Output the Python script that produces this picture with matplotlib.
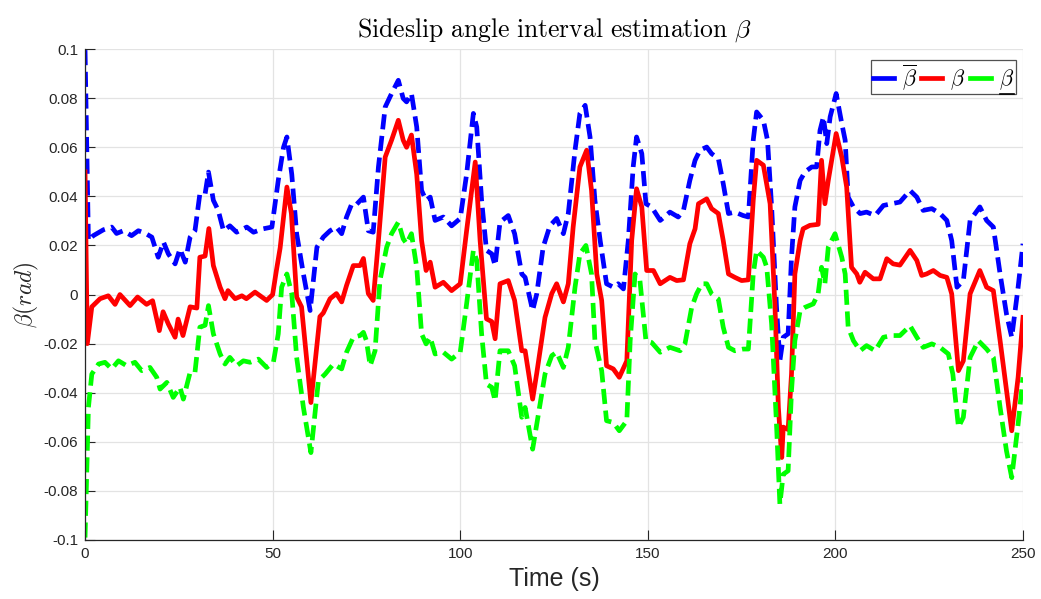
import matplotlib
matplotlib.use('Agg')
import matplotlib.pyplot as plt
from matplotlib.lines import Line2D

plt.rcParams['font.family'] = ['Liberation Sans', 'DejaVu Sans']
plt.rcParams['mathtext.fontset'] = 'cm'

# ---- data (time in s, angle in rad) ----
red_t = [0, 0.6, 1.8, 4, 6.2, 8, 9.3, 12, 14, 16.4,
         18, 19.8, 20.8, 22.2, 24, 24.8, 26.1, 28, 29.8, 30.6,
         32, 33, 34.2, 36, 37.3, 38.1, 40, 41.8, 43, 45.3,
         48.4, 50, 51, 52, 53.8, 55, 56.4, 57.7, 60.2, 62.6,
         63.5, 65.3, 67, 68.4, 69.7, 71.5, 73.3, 74.2, 75.5, 76.8,
         78.2, 80, 81.7, 83.5, 84.8, 85.7, 87, 88.4, 89.7, 90.9,
         92, 93.3, 95.5, 97.7, 100, 101.7, 104, 105.3, 107, 108.4,
         109.3, 110.6, 112.8, 114.5, 116.4, 117.3, 119.3, 120.4, 122.6, 124.4,
         125.7, 127.5, 128.8, 130.1, 131.9, 133.7, 135, 136.4, 137.7, 139,
         140.8, 142.4, 144.4, 145.7, 147, 148.4, 149.7, 151.5, 153.3, 155.9,
         157.7, 159.5, 161.2, 162.6, 163.5, 165.7, 167, 168.8, 170.1, 171.5,
         173.2, 175, 176.8, 178.1, 179, 180.8, 182.6, 183.9, 184.8, 185.7,
         186.1, 187.4, 188.3, 189.2, 190.6, 191.4, 193.2, 195.4, 196.3, 197.2,
         198.1, 200.2, 201.7, 203, 204.3, 205.7, 206.5, 207.9, 210.1, 211.9,
         213.7, 215.4, 217.2, 219.9, 221.7, 223, 224.3, 226.1, 227.9, 229.7,
         231, 232.8, 234.1, 235.9, 238.5, 240.3, 242.1, 243.9, 245.6, 247,
         248.7, 250]
red = [0.050, -0.020, -0.005, -0.0017, -0.0005, -0.004, 0.0, -0.0045, -0.001, -0.004,
       -0.0025, -0.0147, -0.007, -0.012, -0.0174, -0.010, -0.0167, -0.005, -0.0055, 0.0152,
       0.0157, 0.0269, 0.0118, 0.003, -0.0017, 0.0016, -0.0017, -0.0005, -0.0017, 0.001,
       -0.0024, 0.0, 0.0098, 0.019, 0.0438, 0.033, -0.001, -0.005, -0.044, -0.009,
       -0.0075, -0.0017, 0.0004, -0.003, 0.0037, 0.0118, 0.0118, 0.0147, 0.0004, -0.0024,
       0.022, 0.056, 0.0629, 0.071, 0.0629, 0.060, 0.065, 0.049, 0.022, 0.0098,
       0.0132, 0.003, 0.005, 0.0016, 0.0044, 0.026, 0.054, 0.022, -0.0099, -0.011,
       -0.018, 0.0044, 0.0057, -0.0024, -0.0229, -0.0229, -0.0426, -0.032, -0.0093, 0.0004,
       0.0044, -0.003, 0.0044, 0.0275, 0.052, 0.0588, 0.0424, 0.0084, -0.0024, -0.029,
       -0.0303, -0.0337, -0.027, 0.022, 0.0431, 0.0357, 0.0098, 0.0098, 0.0044, 0.007,
       0.0057, 0.006, 0.0207, 0.0268, 0.037, 0.039, 0.035, 0.033, 0.022, 0.0084,
       0.007, 0.0057, 0.006, 0.0384, 0.0547, 0.0527, 0.037, -0.005, -0.046, -0.0664,
       -0.054, -0.055, -0.0324, 0.0084, 0.022, 0.0268, 0.0282, 0.0286, 0.0547, 0.037,
       0.0465, 0.0656, 0.056, 0.0438, 0.0111, 0.0084, 0.005, 0.0091, 0.0064, 0.0064,
       0.0146, 0.0125, 0.012, 0.018, 0.0139, 0.0078, 0.0084, 0.0098, 0.0078, 0.007,
       0.0003, -0.031, -0.027, 0.0003, 0.0098, 0.003, 0.0016, -0.0188, -0.039, -0.0555,
       -0.0337, -0.0093]

upper_t = [0, 0.9, 2.2, 4.9, 7.1, 8.4, 10.2, 12.4, 14.2, 16,
           17.8, 19.5, 20.9, 22.2, 24, 25.3, 26.7, 28, 29.3, 30.6,
           32, 32.9, 34.2, 35.5, 36.9, 38.6, 40.4, 43.1, 44.9, 47.5,
           49.8, 51.5, 52.9, 53.8, 55.1, 56.4, 58.2, 60, 61.8, 63.5,
           65.3, 67, 68.4, 69.7, 71.1, 72.4, 74.2, 75.5, 76.8, 78.2,
           80, 81.7, 83.5, 84.8, 85.7, 87, 88.4, 89.7, 90.9, 92,
           93.3, 95.5, 97.7, 100, 101.7, 103.5, 104.4, 105.7, 107, 108.4,
           109.3, 110.6, 112.8, 114.5, 116.4, 117.3, 119.3, 120.4, 122.1, 123.9,
           125.7, 127.5, 128.8, 130.6, 131.9, 133.3, 134.6, 135.9, 137.3, 139,
           140.8, 142.1, 143.5, 144.8, 146.1, 147, 148.4, 149.5, 151, 153.3,
           155.9, 158.1, 159.5, 161.2, 162.6, 163.9, 165.7, 167, 168.8, 170.1,
           171.5, 173.2, 175.4, 176.8, 178.1, 179, 180.8, 181.9, 183, 184.3,
           185.2, 186.1, 187.4, 188.3, 189.2, 190.6, 191.9, 193.7, 195, 195.9,
           196.8, 197.7, 198.6, 200.2, 201.7, 202.6, 203.4, 204.8, 206.6, 208.3,
           210.6, 212.8, 215, 217.2, 219.9, 221.7, 223.4, 225.7, 227.9, 229.7,
           231, 232.4, 234.1, 235.9, 238.5, 240.3, 242.1, 243.9, 245.6, 247,
           248.7, 250]
upper = [0.0996, 0.022, 0.024, 0.0264, 0.0275, 0.0249, 0.026, 0.024, 0.026, 0.025,
         0.0234, 0.0152, 0.0214, 0.0166, 0.0125, 0.0186, 0.0132, 0.0234, 0.026, 0.041,
         0.041, 0.0499, 0.0384, 0.0343, 0.026, 0.028, 0.0254, 0.0275, 0.0254, 0.0268,
         0.0275, 0.0465, 0.060, 0.0642, 0.049, 0.0248, 0.0084, -0.0065, 0.0193, 0.0234,
         0.026, 0.0275, 0.0248, 0.0316, 0.037, 0.0368, 0.0397, 0.026, 0.0254, 0.052,
         0.0764, 0.0819, 0.0873, 0.0799, 0.0785, 0.0819, 0.0683, 0.0424, 0.0384, 0.0397,
         0.0302, 0.0316, 0.028, 0.031, 0.049, 0.0738, 0.0683, 0.0384, 0.018, 0.0166,
         0.0118, 0.0295, 0.0322, 0.0248, 0.0084, 0.007, -0.0065, 0.0003, 0.0193, 0.028,
         0.031, 0.0248, 0.033, 0.0588, 0.0738, 0.0771, 0.0642, 0.0384, 0.022, 0.0044,
         0.003, 0.0044, 0.0023, 0.022, 0.052, 0.0642, 0.0574, 0.037, 0.0357, 0.0302,
         0.0336, 0.0316, 0.0343, 0.0465, 0.0547, 0.0588, 0.0601, 0.0574, 0.0554, 0.0452,
         0.033, 0.0336, 0.0322, 0.0316, 0.0629, 0.0744, 0.071, 0.0629, 0.0357, -0.005,
         -0.027, -0.0174, -0.016, 0.0152, 0.0357, 0.0465, 0.050, 0.052, 0.052, 0.0669,
         0.0724, 0.0615, 0.0724, 0.0819, 0.0697, 0.0629, 0.0397, 0.0357, 0.033, 0.0336,
         0.0322, 0.0363, 0.037, 0.0377, 0.0424, 0.0397, 0.0343, 0.035, 0.033, 0.0302,
         0.022, 0.003, 0.0057, 0.0302, 0.0357, 0.0302, 0.0275, 0.0084, -0.0079, -0.0174,
         0.003, 0.0207]

lower_t = [0, 0.9, 1.8, 3.6, 5.3, 7.1, 8.9, 11.1, 13.3, 15.1,
           17.3, 19.1, 20, 21.8, 23.5, 25.3, 26.2, 28, 29.3, 30.6,
           32, 32.9, 34.2, 36, 37.3, 38.6, 40.4, 42.2, 44, 46.2,
           48.4, 50.2, 51.5, 52.4, 53.8, 55.1, 56.4, 58.2, 60.2, 62.2,
           64, 66.2, 68.4, 69.7, 71.5, 73.3, 74.2, 75, 76, 77.3,
           78.6, 80.4, 81.7, 83.5, 84.8, 85.7, 87, 88.4, 89.7, 90.9,
           92, 93.3, 95.5, 97.7, 100, 101.7, 103.5, 104.4, 105.7, 107,
           108.4, 109.3, 110.6, 112.8, 114.5, 116.4, 117.3, 119.3, 120.4, 122.6,
           124.4, 125.7, 127.5, 128.8, 130.6, 131.9, 133.5, 135, 135.9, 137.7,
           139, 140.8, 142.4, 144.4, 145.3, 146.6, 147.9, 149.5, 151, 153.3,
           155.9, 158.6, 159.9, 161.7, 163, 164.4, 165.7, 167, 168.8, 170.1,
           171.5, 173.2, 175.4, 176.8, 178.1, 179, 180.8, 181.7, 183, 184.3,
           185.2, 186.1, 187.4, 188.3, 189.2, 190.6, 191.9, 194.1, 195.4, 196.3,
           197.2, 198.1, 199.9, 201.7, 202.6, 203.4, 204.8, 206.6, 208.3, 210.6,
           212.8, 215, 217.2, 219.9, 221.7, 223.4, 225.7, 227.9, 230.1, 231.3,
           232.8, 234.1, 235.9, 238.1, 240.3, 242.1, 243.9, 245.6, 247, 248.7,
           250]
lower = [-0.099, -0.046, -0.0324, -0.0283, -0.0276, -0.0303, -0.027, -0.029, -0.0276, -0.031,
         -0.0297, -0.0337, -0.0385, -0.0358, -0.0419, -0.0378, -0.0426, -0.0317, -0.0317, -0.0133,
         -0.0125, -0.0045, -0.016, -0.0242, -0.0283, -0.0256, -0.029, -0.027, -0.0276, -0.0263,
         -0.0297, -0.0276, -0.016, 0.003, 0.0084, 0.0003, -0.0256, -0.046, -0.0644, -0.0351,
         -0.0324, -0.0283, -0.0303, -0.0235, -0.0174, -0.0167, -0.0154, -0.0188, -0.029, -0.0229,
         0.0057, 0.0193, 0.0248, 0.0295, 0.0227, 0.0207, 0.0248, 0.0111, -0.016, -0.0201,
         -0.0174, -0.0242, -0.0235, -0.0263, -0.0235, -0.0038, 0.018, 0.0139, -0.016, -0.0365,
         -0.0378, -0.0433, -0.0229, -0.0229, -0.029, -0.050, -0.046, -0.063, -0.0528, -0.0324,
         -0.0249, -0.0235, -0.0297, -0.0215, 0.003, 0.0166, 0.020, 0.0084, -0.0188, -0.031,
         -0.0514, -0.0521, -0.0555, -0.0514, -0.0188, 0.0084, 0.0057, -0.0188, -0.0195, -0.0235,
         -0.0215, -0.0229, -0.0201, -0.0052, 0.0003, 0.0044, 0.0044, 0.0003, -0.0018, -0.0133,
         -0.0215, -0.0229, -0.0222, -0.0222, 0.0084, 0.018, 0.0152, 0.0111, -0.012, -0.0528,
         -0.0854, -0.0732, -0.0718, -0.0392, -0.0188, -0.0065, -0.0052, -0.0038, 0.0003, 0.0111,
         0.0044, 0.0193, 0.0248, 0.0152, 0.0084, -0.0133, -0.0188, -0.0229, -0.0208, -0.0229,
         -0.0174, -0.0167, -0.0167, -0.0127, -0.0174, -0.0215, -0.0201, -0.0215, -0.0242, -0.0324,
         -0.054, -0.050, -0.0256, -0.0188, -0.0222, -0.0256, -0.046, -0.0637, -0.0746, -0.0528,
         -0.0337]

x_ticks = [0, 50, 100, 150, 200, 250]
y_ticks = [-0.1, -0.08, -0.06, -0.04, -0.02, 0, 0.02, 0.04, 0.06, 0.08, 0.1]
y_tick_labels = ['-0.1', '-0.08', '-0.06', '-0.04', '-0.02', '0',
                 '0.02', '0.04', '0.06', '0.08', '0.1']

fig = plt.figure(figsize=(10.41, 5.99), dpi=100)
ax = fig.add_axes([0.0817, 0.0985, 0.901, 0.8195])

lw = 3.4
ax.plot(upper_t, upper, color='#0000ff', lw=lw, dashes=(3.2, 1.4), label=r'$\overline{\beta}$')
ax.plot(red_t, red, color='#ff0000', lw=lw, label=r'$\beta$')
ax.plot(lower_t, lower, color='#00ff00', lw=lw, dashes=(3.2, 1.4), label=r'$\beta$')

ax.set_xlim(0, 250)
ax.set_ylim(-0.1, 0.1)
ax.set_xticks(x_ticks)
ax.set_yticks(y_ticks)
ax.set_yticklabels(y_tick_labels)

ax.grid(True, color='#e3e3e3', lw=0.9)
ax.set_axisbelow(True)
for s in ['top', 'right']:
    ax.spines[s].set_visible(False)
for s in ['left', 'bottom']:
    ax.spines[s].set_color('#262626')
    ax.spines[s].set_linewidth(0.9)
ax.tick_params(direction='in', length=7, width=0.8, color='#262626',
               labelcolor='#262626', labelsize=11, pad=5)

ax.set_title(r'$\mathrm{Sideslip\ angle\ interval\ estimation}\ \beta$',
             fontsize=18.5, pad=9)
ax.set_xlabel('Time (s)', fontsize=18, color='#262626')
ax.xaxis.set_label_coords(0.5, -0.055)
ax.set_ylabel(r'$\beta(rad)$', fontsize=17, color='#262626')
ax.yaxis.set_label_coords(-0.047, 0.5)

leg = ax.legend(loc='upper right', bbox_to_anchor=(0.9925, 0.978), ncol=3,
                fontsize=16, frameon=True, fancybox=False, borderaxespad=0,
                handlelength=0.95, handletextpad=0.35, columnspacing=0.2,
                borderpad=0.1)
leg.get_frame().set_edgecolor('#262626')
leg.get_frame().set_linewidth(0.9)
for h in leg.get_lines():
    h.set_linestyle('-')

# underline the lower-bound label (mathtext has no \underline)
fig.canvas.draw()
bb = leg.get_texts()[2].get_window_extent().transformed(fig.transFigure.inverted())
y_ul = bb.y0 - 0.003
fig.add_artist(Line2D([bb.x0 + 0.001, bb.x1], [y_ul, y_ul], color='black', lw=1.2,
                      transform=fig.transFigure))

fig.savefig('out.png', dpi=100, facecolor='white')
